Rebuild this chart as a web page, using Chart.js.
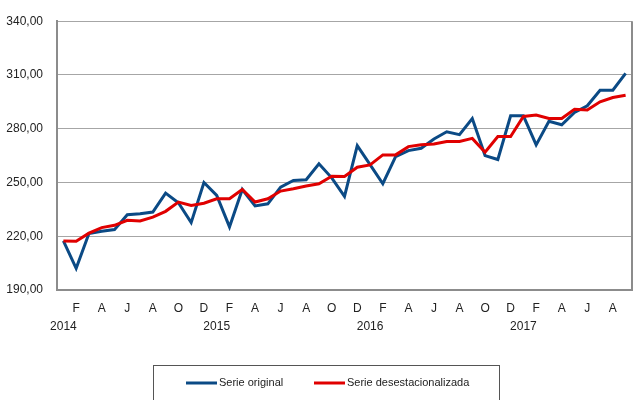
<!DOCTYPE html>
<html>
<head>
<meta charset="utf-8">
<script src="https://cdn.jsdelivr.net/npm/chart.js@4/dist/chart.umd.min.js"></script>
<style>
  html, body { margin: 0; padding: 0; background: #fff; }
  #wrap { width: 639px; height: 400px; position: relative; }
</style>
</head>
<body>
<div id="wrap"><canvas id="chart"></canvas></div>
<script>
// Jan 2014 .. Sep 2017, monthly
const monthTicks = [
  '', 'F', '', 'A', '', 'J', '', 'A', '', 'O', '', 'D',
  '', 'F', '', 'A', '', 'J', '', 'A', '', 'O', '', 'D',
  '', 'F', '', 'A', '', 'J', '', 'A', '', 'O', '', 'D',
  '', 'F', '', 'A', '', 'J', '', 'A', ''
];
const years = ['2014', '2015', '2016', '2017'];

const serieOriginal = [
  217.4, 202.1, 221.5, 222.8, 223.7, 232.0, 232.6, 233.5, 244.1, 238.7, 227.6, 250.0,
  242.8, 225.2, 246.1, 236.9, 238.1, 247.4, 251.1, 251.5, 260.4, 252.6, 242.2, 270.6,
  260.0, 249.3, 264.4, 267.8, 269.1, 274.3, 278.3, 276.7, 285.7, 265.0, 262.8, 287.2,
  287.2, 271.0, 284.1, 282.2, 289.1, 292.8, 301.5, 301.5, 310.9
];
const serieDesest = [
  217.4, 217.2, 221.7, 224.8, 226.1, 228.9, 228.5, 230.7, 233.9, 239.1, 237.2, 238.4,
  240.9, 240.9, 246.1, 239.1, 240.9, 245.2, 246.5, 248.0, 249.3, 253.5, 253.3, 258.5,
  259.8, 265.4, 265.4, 270.0, 271.1, 271.5, 272.9, 272.9, 274.6, 266.9, 275.6, 275.6,
  286.8, 287.6, 285.7, 285.7, 290.9, 290.4, 295.0, 297.4, 298.7
];

const labels = monthTicks.map((m, i) => (i % 12 === 0 ? [m, years[i / 12]] : m));

const FONT = "'Liberation Sans', Arial, sans-serif";

// frame on the right side of the plot + boxed legend under the axis
const framePlugin = {
  id: 'frame',
  beforeDatasetsDraw(chart) {
    const { ctx, chartArea } = chart;
    ctx.save();
    ctx.strokeStyle = '#8c8c8c';
    ctx.lineWidth = 2;
    ctx.beginPath();
    ctx.moveTo(chartArea.right, chartArea.top);
    ctx.lineTo(chartArea.right, chartArea.bottom);
    ctx.stroke();
    ctx.restore();
  },
  afterDraw(chart) {
    const ctx = chart.ctx;
    ctx.save();
    ctx.strokeStyle = '#555';
    ctx.lineWidth = 1;
    ctx.strokeRect(153.5, 365.5, 346, 40);
    const items = [
      { x: 186, w: 31 },
      { x: 314, w: 31 }
    ];
    ctx.font = '11px ' + FONT;
    ctx.textBaseline = 'middle';
    ctx.fillStyle = '#222';
    chart.data.datasets.forEach((ds, i) => {
      const it = items[i];
      ctx.strokeStyle = ds.borderColor;
      ctx.lineWidth = 3;
      ctx.beginPath();
      ctx.moveTo(it.x, 383);
      ctx.lineTo(it.x + it.w, 383);
      ctx.stroke();
      ctx.fillText(ds.label, it.x + it.w + 2, 383);
    });
    ctx.restore();
  }
};

new Chart(document.getElementById('chart'), {
  type: 'line',
  data: {
    labels: labels,
    datasets: [{
      label: 'Serie original',
      data: serieOriginal,
      borderColor: '#0b4a85',
      borderWidth: 3,
      pointRadius: 0,
      tension: 0,
      order: 1
    }, {
      label: 'Serie desestacionalizada',
      data: serieDesest,
      borderColor: '#e00000',
      borderWidth: 3,
      pointRadius: 0,
      tension: 0,
      order: 0
    }]
  },
  options: {
    responsive: true,
    maintainAspectRatio: false,
    animation: false,
    layout: { padding: { top: 20, right: 7, left: 0, bottom: 0 } },
    plugins: {
      legend: { display: false },
      tooltip: { enabled: false }
    },
    scales: {
      x: {
        offset: true,
        grid: { display: false, drawTicks: false },
        border: { color: '#8c8c8c', width: 2 },
        ticks: {
          autoSkip: false,
          maxRotation: 0,
          padding: 10,
          color: '#222',
          font: { family: FONT, size: 12, lineHeight: 1.5 }
        },
        afterFit(scale) { scale.height = 110; }
      },
      y: {
        min: 190,
        max: 340,
        grid: { color: '#a6a6a6', lineWidth: 1, drawTicks: false },
        border: { color: '#8c8c8c', width: 2 },
        ticks: {
          stepSize: 30,
          padding: 14,
          color: '#222',
          font: { family: FONT, size: 12 },
          callback: v => v.toFixed(2).replace('.', ',')
        },
        afterFit(scale) { scale.width = 57; }
      }
    }
  },
  plugins: [framePlugin]
});
</script>
</body>
</html>
